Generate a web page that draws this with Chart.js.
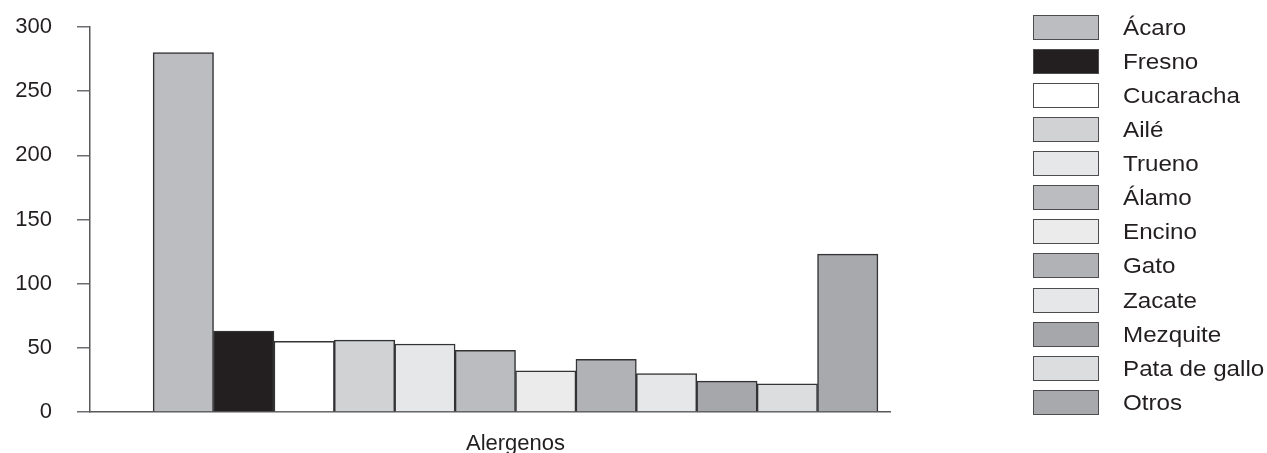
<!DOCTYPE html>
<html><head><meta charset="utf-8">
<script src="https://cdn.jsdelivr.net/npm/chart.js@4/dist/chart.umd.min.js"></script>
<style>
html,body{margin:0;padding:0;background:#fff;}
#wrap{position:relative;width:1267px;height:453px;overflow:hidden;}
#c{position:absolute;left:0;top:0;}
#legend{position:absolute;left:1033px;top:0;width:234px;height:453px;}
.item{position:absolute;left:0;height:25px;width:234px;white-space:nowrap;}
.box{position:absolute;left:0;top:0;width:66px;height:25px;box-sizing:border-box;border:1.5px solid #4d4d4f;}
.lab{position:absolute;left:90px;top:0;line-height:25px;font-size:22px;font-family:"Liberation Sans",Arial,sans-serif;color:#231f20;transform:scaleX(1.1);transform-origin:0 50%;}
</style></head>
<body><div id="wrap"><canvas id="c" width="1267" height="453"></canvas><div id="legend"></div></div>
<script>
const categories = ['Ácaro','Fresno','Cucaracha','Ailé','Trueno','Álamo','Encino','Gato','Zacate','Mezquite','Pata de gallo','Otros'];
const values = [280, 63, 55, 56, 53, 48, 32, 41, 30, 24, 22, 123];
const colors = ['#bcbdc0','#231f20','#ffffff','#d1d2d4','#e6e7e8','#bbbcbf','#ebebec','#b1b2b5','#e6e7e8','#a6a7aa','#dcdddf','#a7a9ac'];
const yTicks = [0, 50, 100, 150, 200, 250, 300];
const xLabel = 'Alergenos';

const FONT = {family: '"Liberation Sans", Arial, sans-serif', size: 22};
const TEXT = '#231f20';

const datasets = categories.map((c, i) => ({
  label: c,
  data: [{x: 0, y: values[i]}],
  backgroundColor: colors[i],
  borderColor: '#333335',
  borderWidth: 1.5,
  barThickness: 60.4,
  borderSkipped: 'start'
}));

new Chart(document.getElementById('c'), {
  type: 'bar',
  data: {datasets},
  options: {
    responsive: false,
    animation: false,
    devicePixelRatio: 1,
    layout: {padding: {top: 27, right: 377, left: 0, bottom: 0}},
    plugins: {legend: {display: false}, tooltip: {enabled: false}},
    scales: {
      x: {
        type: 'linear', stacked: false, offset: false, min: -1, max: 0.88,
        grid: {display: false, drawTicks: false, offset: false},
        border: {display: true, color: '#58595b', width: 1.5},
        afterBuildTicks: s => { s.ticks = [{value: 0}]; },
        ticks: {callback: () => xLabel, padding: 19, font: FONT, color: TEXT, maxRotation: 0, autoSkip: false},
        afterFit: s => { s.height = 41; s.paddingLeft = 0; s.paddingRight = 0; }
      },
      y: {
        min: 0, max: 300,
        afterBuildTicks: s => { s.ticks = yTicks.map(v => ({value: v})); },
        ticks: {padding: 25, font: FONT, color: TEXT},
        grid: {drawOnChartArea: false, drawTicks: true, tickLength: 13, color: '#6d6e71', lineWidth: 1.5},
        border: {display: true, color: '#58595b', width: 1.5},
        afterFit: s => { s.width = 90; s.paddingTop = 0; s.paddingBottom = 0; }
      }
    }
  }
});

const legend = document.getElementById('legend');
categories.forEach((c, i) => {
  const item = document.createElement('div');
  item.className = 'item';
  item.style.top = (14.7 + i * 34.1) + 'px';
  const box = document.createElement('div');
  box.className = 'box';
  box.style.background = colors[i];
  const lab = document.createElement('div');
  lab.className = 'lab';
  lab.textContent = c;
  item.appendChild(box);
  item.appendChild(lab);
  legend.appendChild(item);
});
</script>
</body></html>
